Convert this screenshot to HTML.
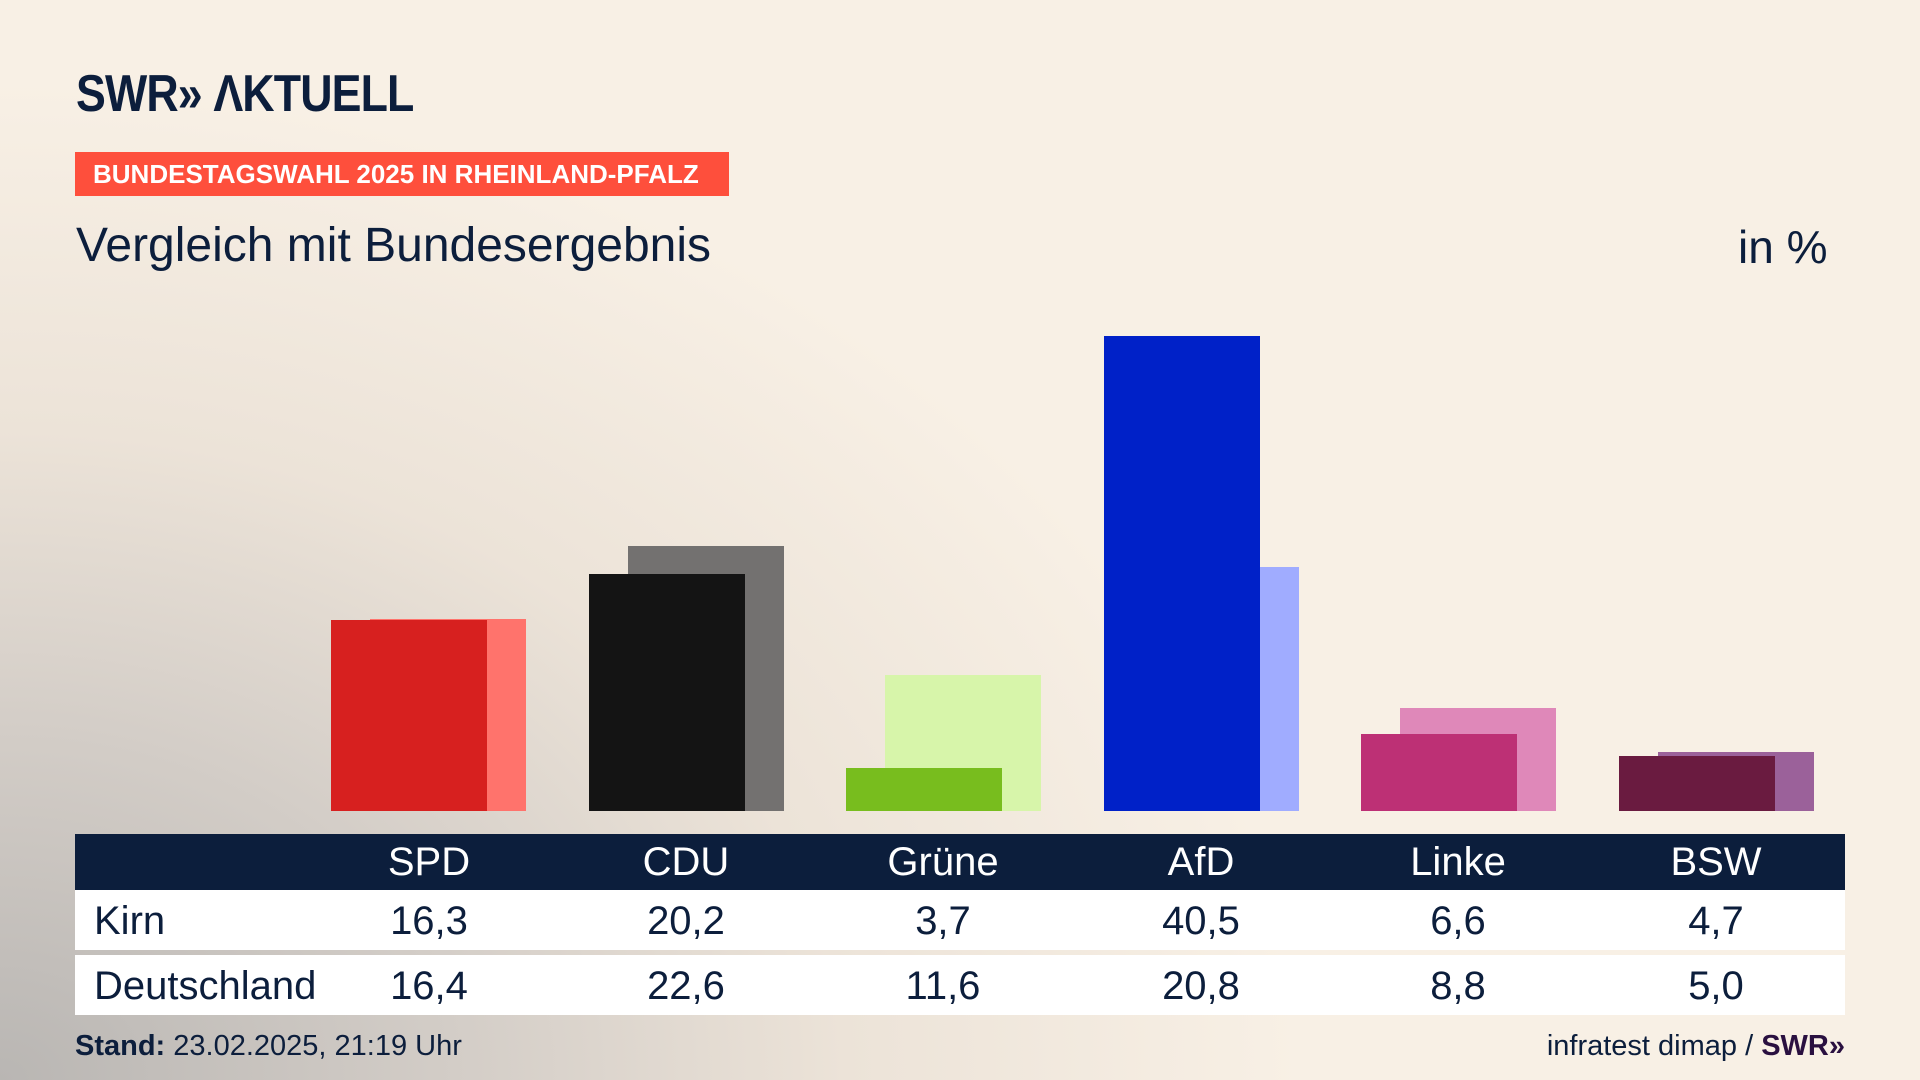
<!DOCTYPE html>
<html><head><meta charset="utf-8"><style>
*{margin:0;padding:0;box-sizing:border-box}
body{width:1920px;height:1080px;overflow:hidden;position:relative;font-family:"Liberation Sans",sans-serif;color:#0c1e3c;
background:radial-gradient(ellipse 1300px 1000px at 0% 100%, #b9b6b3 0%, #d3cdc7 35%, #ece3d8 65%, rgba(248,240,229,0) 100%),#f8f0e5;}
.abs{position:absolute}
.logo{left:76px;top:64px;font-size:52px;font-weight:bold;letter-spacing:-1px;transform:scaleX(0.86);transform-origin:0 0}
.tag{left:75px;top:152px;width:654px;height:44px;background:#fe4f3c;color:#fff;font-weight:bold;font-size:26px;line-height:44px;padding-left:18px;white-space:nowrap}
.title{left:76px;top:218px;font-size:48px}
.unit{left:1738px;top:220px;font-size:46px}
.bar{position:absolute;width:156px}
.hdr{left:75px;top:834px;width:1770px;height:56px;background:#0c1e3c}
.row{left:75px;width:1770px;height:60px;background:#fff}
.cell{position:absolute;width:200px;text-align:center;font-size:40px;line-height:56px}
.lbl{position:absolute;left:94px;font-size:40px}
.foot{top:1030px;font-size:29px}
</style></head><body>
<div class="abs logo">SWR» ɅKTUELL</div>
<div class="abs tag">BUNDESTAGSWAHL 2025 IN RHEINLAND-PFALZ</div>
<div class="abs title">Vergleich mit Bundesergebnis</div>
<div class="abs unit">in %</div>

<div class="bar" style="left:370px;top:619px;height:192px;background:#ff736c"></div>
<div class="bar" style="left:331px;top:620px;height:191px;background:#d7201f"></div>
<div class="bar" style="left:628px;top:546px;height:265px;background:#737170"></div>
<div class="bar" style="left:589px;top:574px;height:237px;background:#141414"></div>
<div class="bar" style="left:885px;top:675px;height:136px;background:#d7f5aa"></div>
<div class="bar" style="left:846px;top:768px;height:43px;background:#78bd1e"></div>
<div class="bar" style="left:1143px;top:567px;height:244px;background:#a0acff"></div>
<div class="bar" style="left:1104px;top:336px;height:475px;background:#0021c8"></div>
<div class="bar" style="left:1400px;top:708px;height:103px;background:#df88b9"></div>
<div class="bar" style="left:1361px;top:734px;height:77px;background:#bd3075"></div>
<div class="bar" style="left:1658px;top:752px;height:59px;background:#9b619a"></div>
<div class="bar" style="left:1619px;top:756px;height:55px;background:#6a1b40"></div>

<div class="abs hdr"></div>
<div class="abs row" style="top:890px"></div>
<div class="abs row" style="top:955px"></div>

<div class="abs" style="left:0;top:834px;width:1920px;height:56px;color:#fff">
<div class="cell" style="left:329px">SPD</div><div class="cell" style="left:586px">CDU</div><div class="cell" style="left:843px">Grüne</div><div class="cell" style="left:1101px">AfD</div><div class="cell" style="left:1358px">Linke</div><div class="cell" style="left:1616px">BSW</div>
</div>
<div class="abs" style="left:0;top:893px;width:1920px;height:56px">
<div class="lbl" style="line-height:56px">Kirn</div>
<div class="cell" style="left:329px">16,3</div><div class="cell" style="left:586px">20,2</div><div class="cell" style="left:843px">3,7</div><div class="cell" style="left:1101px">40,5</div><div class="cell" style="left:1358px">6,6</div><div class="cell" style="left:1616px">4,7</div>
</div>
<div class="abs" style="left:0;top:958px;width:1920px;height:56px">
<div class="lbl" style="line-height:56px">Deutschland</div>
<div class="cell" style="left:329px">16,4</div><div class="cell" style="left:586px">22,6</div><div class="cell" style="left:843px">11,6</div><div class="cell" style="left:1101px">20,8</div><div class="cell" style="left:1358px">8,8</div><div class="cell" style="left:1616px">5,0</div>
</div>

<div class="abs foot" style="left:75px"><b>Stand:</b> 23.02.2025, 21:19 Uhr</div>
<div class="abs foot" style="right:75px">infratest dimap / <b style="color:#2a1040">SWR»</b></div>
</body></html>
